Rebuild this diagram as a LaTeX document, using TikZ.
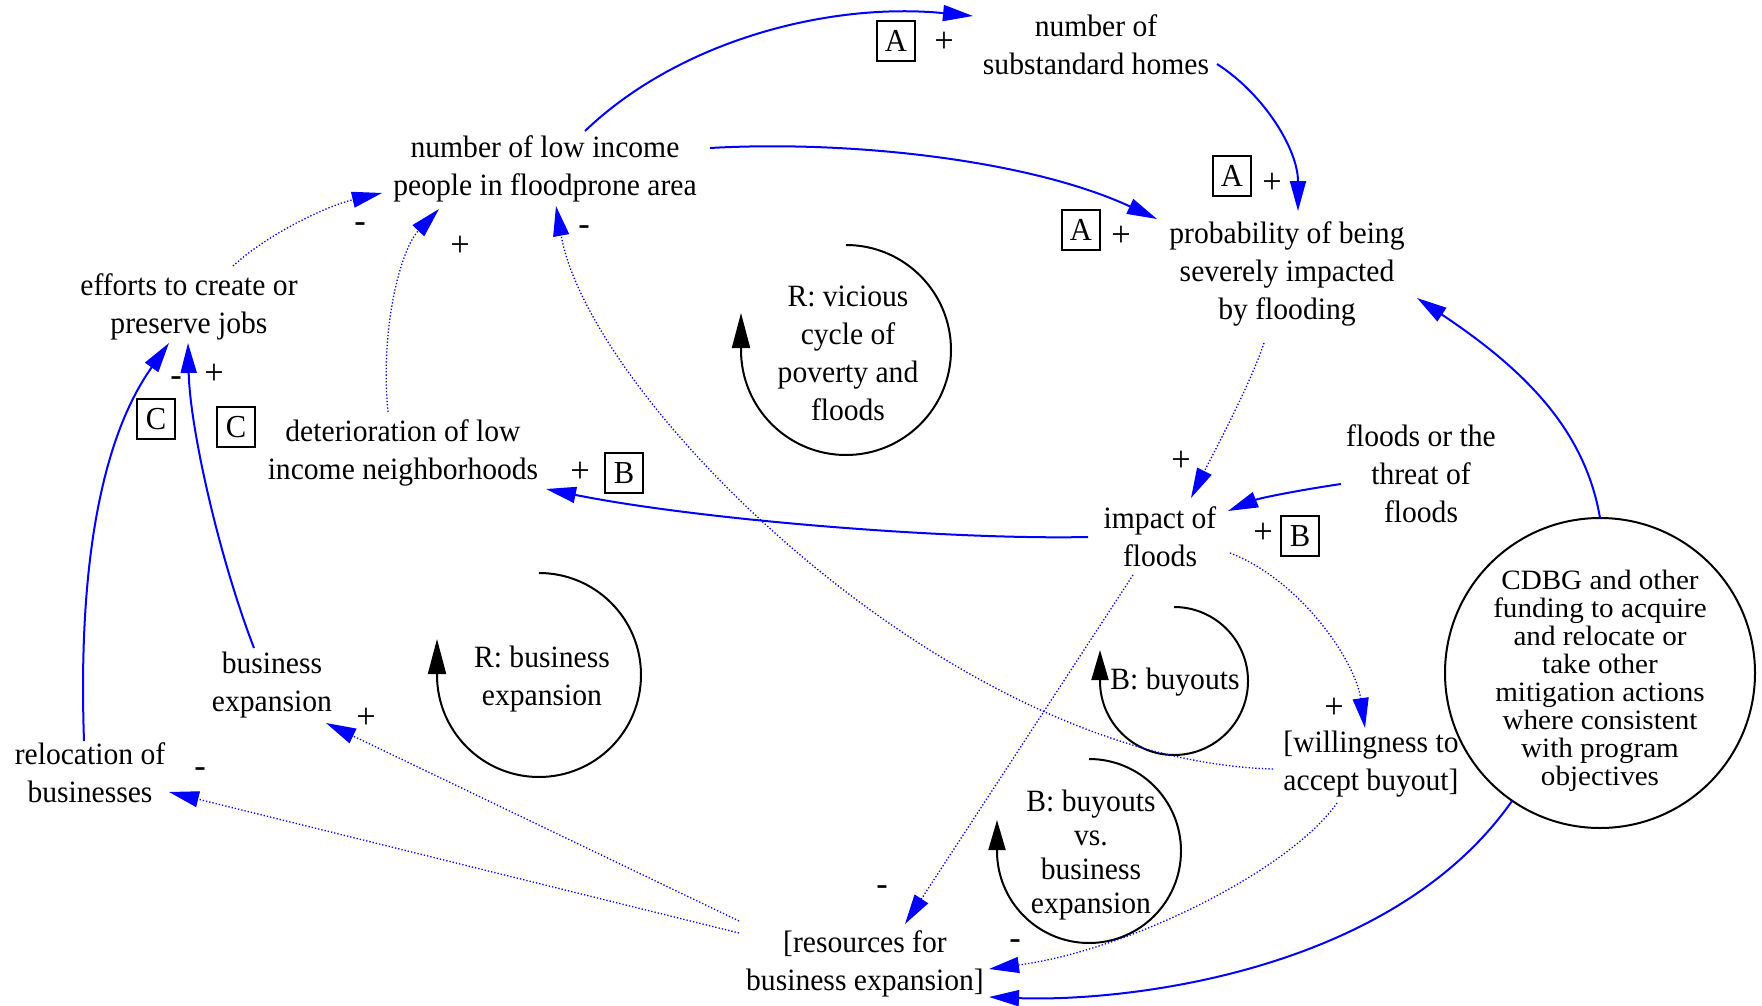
\documentclass[tikz,border=0pt]{standalone}
\usepackage{fontspec}
\setmainfont{Liberation Serif}[FakeStretch=0.955]
\newfontfamily\cdbgfont{Liberation Serif}[FakeStretch=1.04]
\usetikzlibrary{arrows.meta}
\definecolor{eblue}{RGB}{0,0,255}
\begin{document}
\begin{tikzpicture}[x=1pt,y=-1pt,
  lab/.style={align=center, inner sep=0pt, font=\fontsize{31}{38}\selectfont},
  sgn/.style={inner sep=0pt, font=\fontsize{36}{38}\selectfont},
  tagbox/.style={draw, line width=1.5pt, minimum width=38pt, minimum height=40pt, inner sep=0pt, font=\fontsize{32}{38}\selectfont},
  solidedge/.style={eblue, line width=2pt, -{Triangle[length=30pt,width=16pt]}},
  dotedge/.style={eblue, line width=1.3pt, dash pattern=on 1.3pt off 2pt, -{Triangle[length=30pt,width=16pt]}},
  loopbig/.style={black, line width=2pt, -{Triangle[length=35pt,width=18pt]}},
  loopsmall/.style={black, line width=2pt, -{Triangle[length=30pt,width=17pt]}}
]
\useasboundingbox (0,0) rectangle (1762,1006);

% nodes
\node[lab] (sub) at (1096,45) {number of\\substandard homes};
\node[lab] (low) at (545,169) {number of low income\\people in floodprone area};
\node[lab] (prob) at (1287,274) {probability of being\\severely impacted\\by flooding};
\node[lab] (eff) at (189,307) {efforts to create or\\preserve jobs};
\node[lab] (det) at (403,453) {deterioration of low\\income neighborhoods};
\node[lab] (imp) at (1160,537) {impact of\\floods};
\node[lab] (fth) at (1421,474) {floods or the\\threat of\\floods};
\node[lab] (bex) at (272,685) {business\\expansion};
\node[lab] (rel) at (90,773) {relocation of\\businesses};
\node[lab] (wil) at (1371,764) {[willingness to\\accept buyout]};
\node[lab] (res) at (865,964) {[resources for\\business expansion]};
\node[draw, circle, line width=2pt, minimum size=310pt, inner sep=0pt] (cdbg) at (1600,673) {};
\node[align=center, inner sep=0pt, font=\cdbgfont\fontsize{28}{28}\selectfont] (cdbgtext) at (1600,681)
  {CDBG and other\\funding to acquire\\and relocate or\\take other\\mitigation actions\\where consistent\\with program\\objectives};

% loops
\node[lab] (l1) at (848,353) {R: vicious\\cycle of\\poverty and\\floods};
\draw[loopbig] (846,245) arc[start angle=-90, end angle=180, radius=105] -- ++(0,-37);
\node[lab] (l2) at (542,679) {R: business\\expansion};
\draw[loopbig] (539,573) arc[start angle=-90, end angle=180, radius=102] -- ++(0,-36);
\node[lab] (l3) at (1175,682) {B: buyouts};
\draw[loopsmall] (1174,607) arc[start angle=-90, end angle=180, radius=74] -- ++(0,-31);
\node[lab, font=\fontsize{31}{34}\selectfont] (l4) at (1091,855) {B: buyouts\\vs.\\business\\expansion};
\draw[loopsmall] (1089,759) arc[start angle=-90, end angle=180, radius=92] -- ++(0,-31);

% tags and signs
\node[tagbox] (ta1) at (896,41) {A};
\node[sgn] (s1) at (944,42) {+};
\node[tagbox] (ta2) at (1232,176) {A};
\node[sgn] (s2) at (1272,183) {+};
\node[tagbox] (ta3) at (1081,230) {A};
\node[sgn] (s3) at (1121,236) {+};
\node[sgn] (s4) at (360,228) {-};
\node[sgn] (s5) at (460,246) {+};
\node[sgn] (s6) at (584,231) {-};
\node[sgn] (s7) at (176,382) {-};
\node[sgn] (s8) at (214,374) {+};
\node[tagbox] (tc1) at (156,419) {C};
\node[tagbox] (tc2) at (236,427) {C};
\node[sgn] (s9) at (580,472) {+};
\node[tagbox] (tb1) at (624,473) {B};
\node[sgn] (s10) at (1181,461) {+};
\node[sgn] (s11) at (1263,533) {+};
\node[tagbox] (tb2) at (1300,536) {B};
\node[sgn] (s12) at (366,718) {+};
\node[sgn] (s13) at (200,773) {-};
\node[sgn] (s14) at (1334,708) {+};
\node[sgn] (s15) at (882,891) {-};
\node[sgn] (s16) at (1015,945) {-};

% edges
\draw[solidedge] ([shift={(40,-38)}]low.center) .. controls (680,40) and (830,2) .. ([shift={(-123,-29)}]sub.center);
\draw[solidedge] ([shift={(121,19)}]sub.center) .. controls (1265,95) and (1298,150) .. ([shift={(11,-63)}]prob.center);
\draw[solidedge] ([shift={(165,-21)}]low.center) .. controls (850,140) and (1030,160) .. ([shift={(-130,-55)}]prob.center);
\draw[dotedge] ([shift={(-23,69)}]prob.center) .. controls (1250,385) and (1215,450) .. ([shift={(31,-39)}]imp.center);
\draw[solidedge] ([shift={(-80,10)}]fth.center) .. controls (1300,490) and (1260,498) .. ([shift={(68,-26)}]imp.center);
\draw[solidedge] ([shift={(-72,0)}]imp.center) .. controls (950,540) and (700,520) .. ([shift={(143,36)}]det.center);
\draw[dotedge] ([shift={(-15,-41)}]det.center) .. controls (380,330) and (400,250) .. ([shift={(-106,40)}]low.center);
\draw[dotedge] ([shift={(44,-41)}]eff.center) .. controls (270,232) and (330,205) .. ([shift={(-163,24)}]low.center);
\draw[dotedge] ([shift={(-98,5)}]wil.center) .. controls (950,760) and (590,400) .. ([shift={(11,37)}]low.center);
\draw[dotedge] ([shift={(70,16)}]imp.center) .. controls (1300,580) and (1355,660) .. ([shift={(-6,-36)}]wil.center);
\draw[dotedge] ([shift={(-27,38)}]imp.center) -- ([shift={(40,-40)}]res.center);
\draw[dotedge] ([shift={(-34,39)}]wil.center) .. controls (1290,870) and (1130,950) .. ([shift={(124,5)}]res.center);
\draw[solidedge] ([shift={(-88,128)}]cdbg.center) .. controls (1390,975) and (1120,1002) .. ([shift={(124,33)}]res.center);
\draw[solidedge] ([shift={(0,-155)}]cdbg.center) .. controls (1585,430) and (1525,370) .. ([shift={(130,24)}]prob.center);
\draw[dotedge] ([shift={(-126,-43)}]res.center) -- ([shift={(54,38)}]bex.center);
\draw[dotedge] ([shift={(-126,-31)}]res.center) -- ([shift={(79,19)}]rel.center);
\draw[solidedge] ([shift={(-18,-37)}]bex.center) .. controls (220,560) and (190,430) .. ([shift={(-1,36)}]eff.center);
\draw[solidedge] ([shift={(-6,-32)}]rel.center) .. controls (78,570) and (100,440) .. ([shift={(-20,36)}]eff.center);
\end{tikzpicture}
\end{document}
